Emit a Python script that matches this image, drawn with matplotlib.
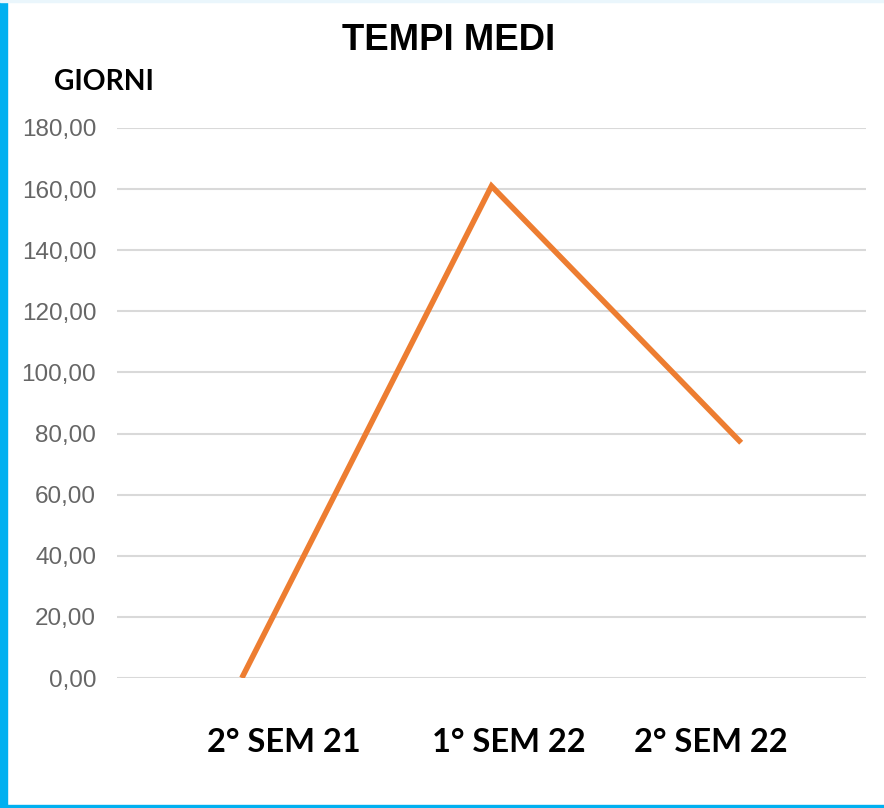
import matplotlib
matplotlib.use("Agg")
import matplotlib.pyplot as plt
import matplotlib.transforms as mtransforms
from matplotlib.patches import Rectangle

categories = ["2° SEM 21", "1° SEM 22", "2° SEM 22"]
giorni = [0.0, 161.0, 77.0]
yticks = [0, 20, 40, 60, 80, 100, 120, 140, 160, 180]

fig = plt.figure(figsize=(8.84, 8.08), dpi=100)
ax = fig.add_axes([117/884, 1 - 678/808, (866 - 117)/884, (678 - 128)/808])

x = list(range(len(categories)))
ax.plot(x, giorni, color="#ED7D31", linewidth=4.0, solid_capstyle="butt", solid_joinstyle="miter", zorder=3)

ax.set_xlim(-0.5, 2.5)
ax.set_ylim(0, 180)
ax.set_yticks(yticks)
ax.set_yticklabels([f"{v:.2f}".replace(".", ",") for v in yticks],
                   fontfamily="Liberation Sans", fontsize=17.5, color="#666666")
ax.tick_params(axis="y", length=0, pad=15)
ax.set_xticks([])
ax.grid(axis="y", color="#D9D9D9", linewidth=1.5)
ax.set_axisbelow(True)
for s in ax.spines.values():
    s.set_visible(False)

# category labels sit a little off the points, like the original
offsets = [0.17, 0.07, -0.12]
trans = mtransforms.blended_transform_factory(ax.transData, fig.transFigure)
for xi, lab, off in zip(x, categories, offsets):
    ax.text(xi + off, 1 - 742/808, lab, transform=trans, ha="center", va="center",
            fontfamily="Lato", fontweight="bold", fontsize=23.5, color="black")

fig.text(449/884, 1 - 40/808, "TEMPI MEDI", ha="center", va="center",
         fontfamily="Liberation Sans", fontweight="bold", fontsize=26.3)
fig.text(104/884, 1 - 82/808, "GIORNI", ha="center", va="center",
         fontfamily="Lato", fontweight="bold", fontsize=20.3)

# blue frame on left and bottom
fig.patches.append(Rectangle((0, 0), 7/884, 1, transform=fig.transFigure, color="#00B0F0"))
fig.patches.append(Rectangle((0, 0), 1, 3/808, transform=fig.transFigure, color="#00B0F0"))
fig.patches.append(Rectangle((0, 1 - 1.5/808), 1, 1.5/808, transform=fig.transFigure, color="#EAF6FC"))

fig.savefig("out.png", dpi=100)
